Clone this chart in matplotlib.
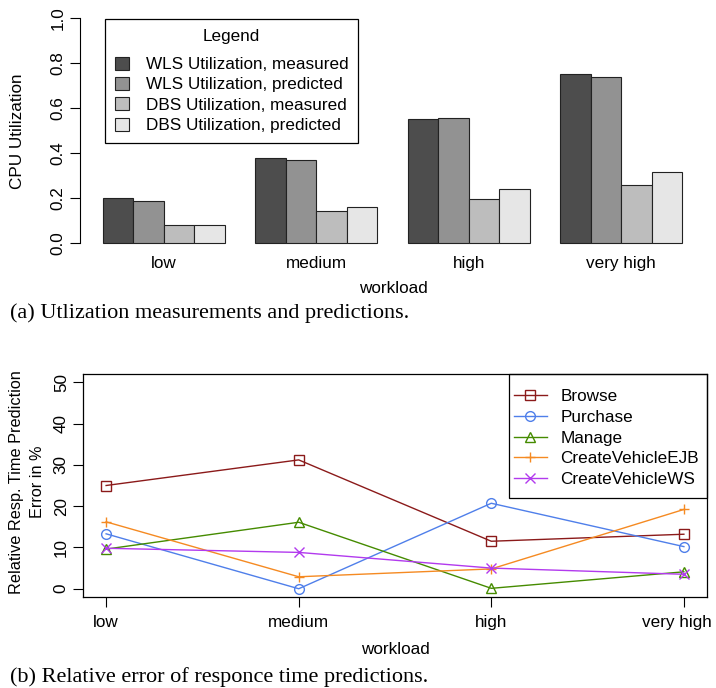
import numpy as np
import matplotlib.pyplot as plt
import matplotlib.patches as mpatches
from matplotlib.transforms import ScaledTranslation

plt.rcParams['font.family'] = ['Liberation Sans', 'DejaVu Sans']

# ---- data: (a) CPU utilization ----
workloads = ['low', 'medium', 'high', 'very high']
util_series = ['WLS Utilization, measured', 'WLS Utilization, predicted',
               'DBS Utilization, measured', 'DBS Utilization, predicted']
wls_measured = [0.200, 0.378, 0.550, 0.750]
wls_predicted = [0.185, 0.370, 0.557, 0.738]
dbs_measured = [0.082, 0.143, 0.197, 0.256]
dbs_predicted = [0.079, 0.160, 0.240, 0.315]
util_values = [wls_measured, wls_predicted, dbs_measured, dbs_predicted]
bar_colors = ['#4D4D4D', '#929292', '#BDBDBD', '#E6E6E6']

# ---- data: (b) relative response time error (%) ----
tx_names = ['Browse', 'Purchase', 'Manage', 'CreateVehicleEJB', 'CreateVehicleWS']
browse = [25.0, 31.2, 11.5, 13.2]
purchase = [13.3, 0.0, 20.7, 10.2]
manage = [9.6, 16.1, 0.1, 4.1]
create_ejb = [16.2, 2.9, 4.8, 19.2]
create_ws = [9.8, 8.8, 5.0, 3.5]
tx_values = [browse, purchase, manage, create_ejb, create_ws]
tx_colors = ['#8B1A1A', '#4F7FEA', '#458B00', '#F58A22', '#B23AEE']
tx_markers = ['s', 'o', '^', '+', 'x']

W, H = 716, 688
fig = plt.figure(figsize=(W / 100, H / 100), dpi=100)


def px_axes(l, t, r, b):
    return fig.add_axes([l / W, 1 - b / H, (r - l) / W, (b - t) / H])


fs = 12.3
cap_fs = 16

# ---------------- (a) bar chart ----------------
ax1 = px_axes(80, 9, 705, 252)
for i, (vals, col, name) in enumerate(zip(util_values, bar_colors, util_series)):
    xs = [g * 5 + 1.5 + i for g in range(len(workloads))]
    ax1.bar(xs, vals, width=1, color=col, edgecolor='#222222', linewidth=0.8,
            label=name)
ax1.set_xlim(0.245, 20.755)
ax1.set_ylim(-0.04, 1.04)
for s in ['top', 'right', 'bottom']:
    ax1.spines[s].set_visible(False)
ax1.spines['left'].set_bounds(0, 1)
ax1.spines['left'].set_linewidth(0.8)
ax1.set_yticks(np.arange(0, 1.01, 0.2))
ax1.set_yticklabels(['%.1f' % v for v in np.arange(0, 1.01, 0.2)],
                    rotation=90, va='center')
ax1.set_xticks([g * 5 + 3 for g in range(len(workloads))])
ax1.set_xticklabels(workloads)
ax1.tick_params(axis='y', length=7.2, width=0.8, labelsize=fs, pad=3)
ax1.tick_params(axis='x', length=0, labelsize=fs, pad=3)
leg1 = ax1.legend(title='Legend', loc='upper left',
                  bbox_to_anchor=(104.6 / W, 1 - 19 / H),
                  bbox_transform=fig.transFigure, fontsize=fs,
                  title_fontsize=fs, fancybox=False, edgecolor='black',
                  framealpha=1, handlelength=0.8, handleheight=0.8,
                  handletextpad=1.0, labelspacing=0.28, borderpad=0.6,
                  borderaxespad=0)
leg1._legend_box.sep = 9
leg1.get_frame().set_linewidth(0.9)
fig.text(393 / W, 1 - 288 / H, 'workload', ha='center', va='center', fontsize=fs)
fig.text(18 / W, 1 - 131 / H, 'CPU Utilization', ha='center', va='center',
         rotation=90, fontsize=fs)
fig.text(10 / W, 1 - 313 / H, '(a) Utlization measurements and predictions.',
         ha='left', va='center', fontsize=cap_fs, family='Liberation Serif')

# ---------------- (b) line chart ----------------
ax2 = px_axes(83, 374, 707, 597)
xpos = np.arange(1, len(workloads) + 1)
for vals, col, mk, name in zip(tx_values, tx_colors, tx_markers, tx_names):
    ax2.plot(xpos, vals, color=col, marker=mk, markersize=7,
             markerfacecolor='none', markeredgecolor=col, markeredgewidth=1,
             linewidth=1, label=name)
ax2.set_xlim(0.88, 4.12)
ax2.set_ylim(-2, 52)
ax2.set_xticks(xpos)
ax2.set_xticklabels(workloads)
ax2.set_yticks(np.arange(0, 51, 10))
ax2.set_yticklabels([str(v) for v in range(0, 51, 10)], rotation=90, va='center')
ax2.tick_params(axis='both', length=7.2, width=0.8, labelsize=fs)
ax2.tick_params(axis='y', pad=3)
ax2.tick_params(axis='x', pad=6)
# last tick label sits a little left so it stays inside the figure
last = ax2.get_xticklabels()[-1]
last.set_transform(last.get_transform() + ScaledTranslation(-7 / 100, 0, fig.dpi_scale_trans))
for s in ax2.spines.values():
    s.set_linewidth(0.9)
leg2 = ax2.legend(loc='upper left', bbox_to_anchor=(509 / W, 1 - 384 / H),
                  bbox_transform=fig.transFigure, borderaxespad=0,
                  fontsize=fs, frameon=False,
                  handlelength=1.9, handletextpad=0.8, labelspacing=0.335,
                  borderpad=0.3)
fig.add_artist(mpatches.Rectangle((509 / W, 1 - 498 / H), (707 - 509) / W,
                                  (498 - 374) / H, transform=fig.transFigure,
                                  fill=False, edgecolor='black', linewidth=0.9))
fig.text(395 / W, 1 - 650 / H, 'workload', ha='center', va='center', fontsize=fs)
fig.text(27 / W, 1 - 482 / H, 'Relative Resp. Time Prediction\nError in %',
         ha='center', va='center', rotation=90, fontsize=11.7,
         multialignment='center', linespacing=1.45)
fig.text(10 / W, 1 - 677 / H, '(b) Relative error of responce time predictions.',
         ha='left', va='center', fontsize=cap_fs, family='Liberation Serif')

fig.savefig('out.png', dpi=100)
